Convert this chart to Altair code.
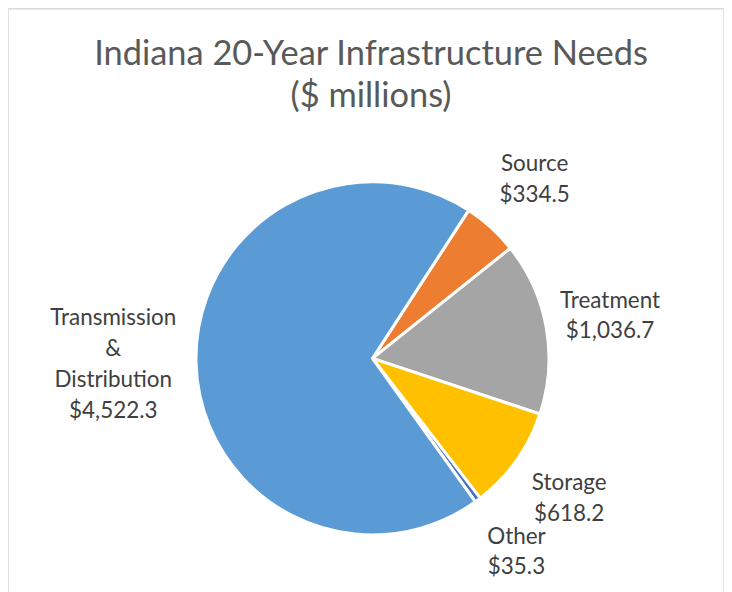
import math
import altair as alt
import pandas as pd

# ---- data ----
categories = ["Source", "Treatment", "Storage", "Other", "Transmission & Distribution"]
label_names = [["Source"], ["Treatment"], ["Storage"], ["Other"], ["Transmission", "&", "Distribution"]]
values = [334.5, 1036.7, 618.2, 35.3, 4522.3]
colors = ["#ED7D31", "#A5A5A5", "#FFC000", "#4472C4", "#5B9BD5"]

df = pd.DataFrame({
    "category": categories,
    "value": values,
    "order": list(range(len(categories))),
    "label": [names + ["${:,.1f}".format(v)] for names, v in zip(label_names, values)],
})

BIG = "Transmission & Distribution"

start = math.radians(33)
theta_scale = alt.Scale(range=[start, start + 2 * math.pi])

cx, cy = 365.5, 350.5

base = alt.Chart(df).encode(
    theta=alt.Theta("value:Q", stack=True, scale=theta_scale),
    order=alt.Order("order:Q", sort="ascending"),
    x=alt.value(cx),
    y=alt.value(cy),
)

arcs = base.mark_arc(outerRadius=177, stroke="white", strokeWidth=3).encode(
    color=alt.Color("category:N",
                    scale=alt.Scale(domain=categories, range=colors),
                    legend=None)
)

text_style = dict(font="Lato", fontSize=22.5, color="#404040",
                  lineHeight=31, align="center", baseline="middle")

# two-line labels
labels_small = base.mark_text(radius=242, dy=-15.5, **text_style).encode(
    text=alt.condition(alt.datum.category == BIG, alt.value(""), alt.Text("label:N")),
    detail="category:N",
)

# four-line label for the large slice
labels_big = base.mark_text(radius=260, dy=-46.5, **text_style).encode(
    text=alt.condition(alt.datum.category != BIG, alt.value(""), alt.Text("label:N")),
    detail="category:N",
)

chart = alt.layer(arcs, labels_small, labels_big).properties(
    width=718,
    height=600,
    padding=0,
    autosize=alt.AutoSizeParams(type="none"),
    title=alt.Title(
        ["Indiana 20-Year Infrastructure Needs", "($ millions)"],
        font="Lato", fontSize=34.5, fontWeight="normal", color="#595959",
        anchor="middle", lineHeight=42, offset=-106, dx=5,
    ),
).configure_view(stroke="#D9D9D9", strokeWidth=1.5)

chart.save("out.html", embed_options={"renderer": "svg", "actions": False})
